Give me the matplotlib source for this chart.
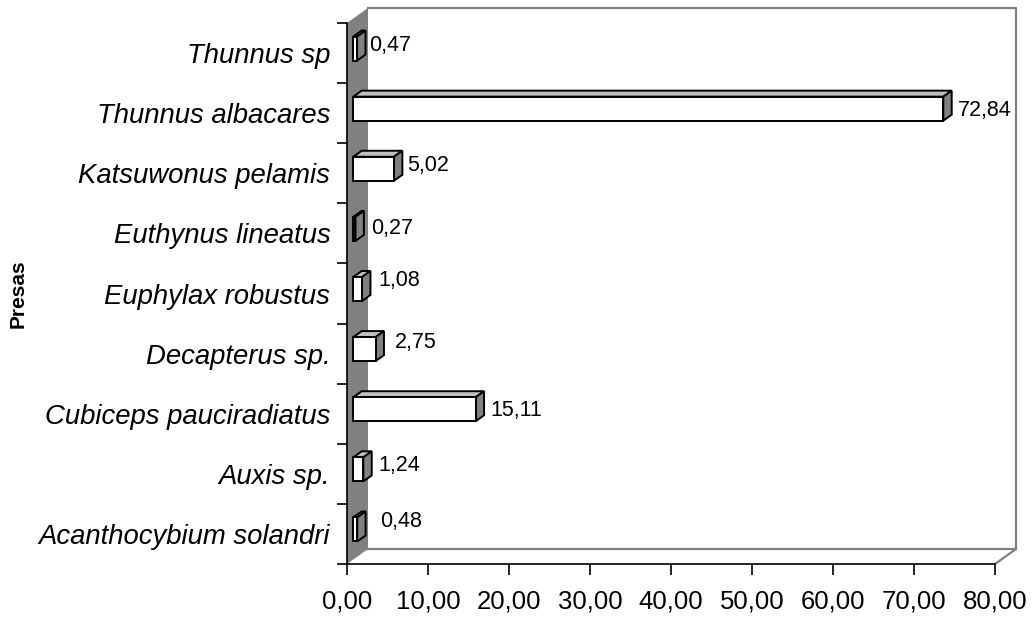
import matplotlib
matplotlib.use("Agg")
import matplotlib.pyplot as plt
from matplotlib.patches import Polygon
from matplotlib.transforms import IdentityTransform, ScaledTranslation
import numpy as np

# Prey species (bottom to top) and their percentage share
species = [
    "Acanthocybium solandri",
    "Auxis sp.",
    "Cubiceps pauciradiatus",
    "Decapterus sp.",
    "Euphylax robustus",
    "Euthynus lineatus",
    "Katsuwonus pelamis",
    "Thunnus albacares",
    "Thunnus sp",
]
percent = [0.48, 1.24, 15.11, 2.75, 1.08, 0.27, 5.02, 72.84, 0.47]
x_ticks = [0, 10, 20, 30, 40, 50, 60, 70, 80]
axis_title = "Presas"

# Small nudges (pixels) for the value labels
label_dx = [15, 7, 6, 11, 8, 7, 5, 6, 4]
label_dy = [12, 8, 3, 11, 13, 5, 8, 3, 8]

plt.rcParams["font.family"] = ["Liberation Sans", "DejaVu Sans"]

W, H, DPI = 1034, 618, 100
fig = plt.figure(figsize=(W / DPI, H / DPI), dpi=DPI)
fig.patch.set_facecolor("white")

# front plane of the oblique box, in figure pixels
x0, x1, ytop, ybot = 347, 995, 23, 564
ax = fig.add_axes([x0 / W, 1 - ybot / H, (x1 - x0) / W, (ybot - ytop) / H])
ax.set_facecolor("none")
ax.set_xlim(0, 80)
ax.set_ylim(-0.5, len(species) - 0.5)
ax.set_autoscale_on(False)

# oblique depth of the box (pixels, right and up)
DX, DY = 21.0, 15.0
BAR_D0, BAR_D1 = 0.3, 0.7
BAR_H = 0.4

GRAY = "#808080"
LIGHT = "#c0c0c0"


def to_disp(pts):
    """(x, y, depth) in data units -> display pixels with oblique offset."""
    out = []
    for x, y, d in pts:
        px, py = ax.transData.transform((x, y))
        out.append((px + d * DX, py + d * DY))
    return np.array(out)


def face(pts, fc, ec="none", lw=0.0, z=1.0):
    p = Polygon(to_disp(pts), closed=True, facecolor=fc, edgecolor=ec,
                linewidth=lw, transform=IdentityTransform(), clip_on=False,
                zorder=z, joinstyle="miter")
    ax.add_patch(p)


def edge(pts, color, lw, z=1.2):
    d = to_disp(pts)
    ax.add_line(plt.Line2D(d[:, 0], d[:, 1], color=color, linewidth=lw,
                           transform=IdentityTransform(), clip_on=False,
                           zorder=z, solid_capstyle="projecting"))


ymin, ymax = -0.5, len(species) - 0.5
xmax = 80

# back wall outline and floor edge
edge([(0, ymax, 1), (xmax, ymax, 1), (xmax, ymin, 1), (0, ymin, 1)], GRAY, 1.6)
edge([(xmax, ymin, 1), (xmax, ymin, 0)], GRAY, 1.6)

# left side wall
face([(0, ymin, 0), (0, ymax, 0), (0, ymax, 1), (0, ymin, 1)], GRAY, z=1.1)

# 3D bars
for i, v in enumerate(percent):
    lo, hi = i - BAR_H / 2, i + BAR_H / 2
    # top face
    face([(0, hi, BAR_D0), (v, hi, BAR_D0), (v, hi, BAR_D1), (0, hi, BAR_D1)],
         LIGHT, "black", 1.4, z=3)
    # end face
    face([(v, lo, BAR_D0), (v, hi, BAR_D0), (v, hi, BAR_D1), (v, lo, BAR_D1)],
         GRAY, "black", 1.4, z=3)

shift = ScaledTranslation(BAR_D0 * DX / DPI, BAR_D0 * DY / DPI, fig.dpi_scale_trans)
ax.barh(np.arange(len(species)), percent, height=BAR_H, left=0,
        color="white", edgecolor="black", linewidth=1.4,
        transform=ax.transData + shift, clip_on=False, zorder=3.2)

# value labels
for i, v in enumerate(percent):
    off = ScaledTranslation((BAR_D1 * DX + label_dx[i]) / DPI,
                            label_dy[i] / DPI, fig.dpi_scale_trans)
    ax.text(v, i, f"{v:.2f}".replace(".", ","), transform=ax.transData + off,
            ha="left", va="center", fontsize=15.5, color="black", zorder=4,
            clip_on=False)

# axes
for s in ("top", "right"):
    ax.spines[s].set_visible(False)
for s in ("left", "bottom"):
    ax.spines[s].set_color("black")
    ax.spines[s].set_linewidth(1.2)
    ax.spines[s].set_zorder(2.5)

ax.set_xticks(x_ticks)
ax.set_xticklabels([f"{t:.2f}".replace(".", ",") for t in x_ticks], fontsize=18.5)
ax.tick_params(axis="x", direction="out", length=8, width=1.2, pad=10, color="black")

ax.set_yticks(np.arange(len(species)))
ax.set_yticklabels(species, fontsize=19.8, fontstyle="italic")
ax.set_yticks(np.arange(len(species) + 1) - 0.5, minor=True)
ax.tick_params(axis="y", which="major", length=0, pad=12)
ax.tick_params(axis="y", which="minor", direction="out", length=7, width=1.2, color="black")

fig.text(18 / W, 1 - 294 / H, axis_title, rotation=90, ha="center", va="center",
         fontsize=15, fontweight="bold")

fig.savefig("out.png", dpi=DPI, facecolor="white")
